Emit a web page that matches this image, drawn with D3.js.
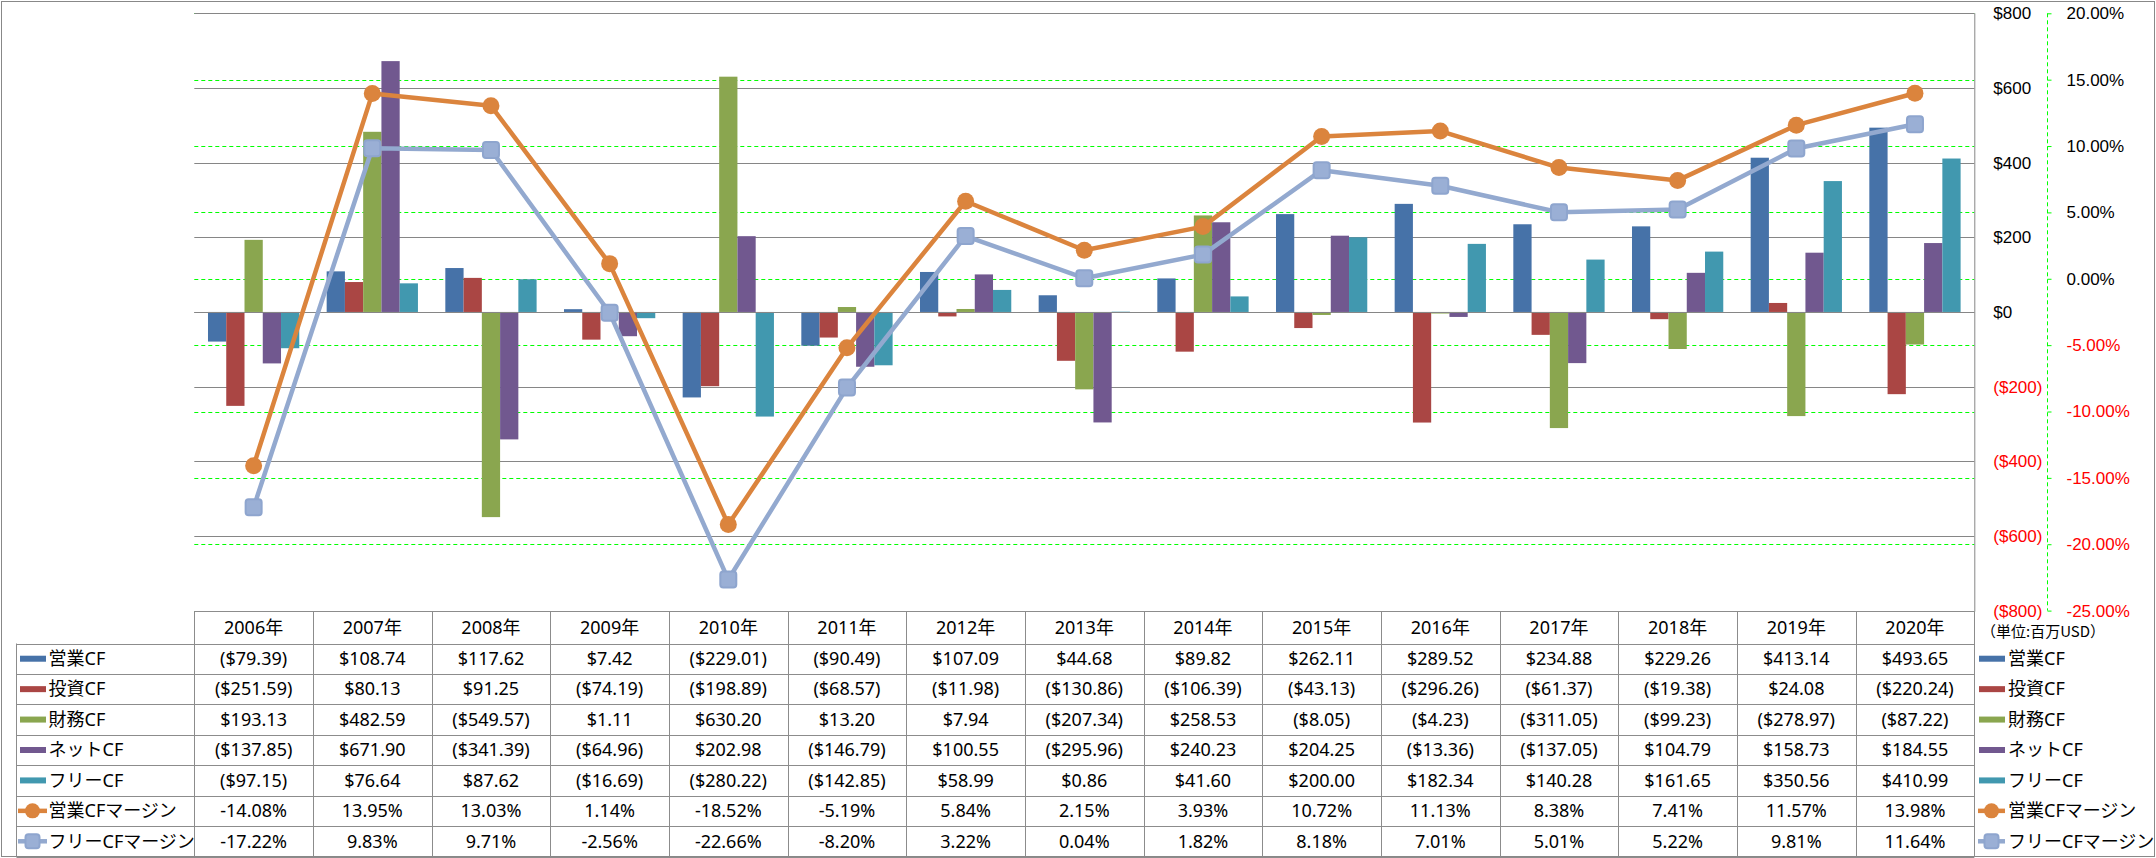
<!DOCTYPE html>
<html><head><meta charset="utf-8">
<script src="https://cdn.jsdelivr.net/npm/d3@7"></script>
<style>
body{margin:0;background:#fff;}
svg{display:block;font-family:"Noto Sans","Noto Sans CJK JP",sans-serif;}
</style></head><body>
<svg id="chart" width="2156" height="858"></svg>
<script>
// ---- data ----
const years = ["2006年","2007年","2008年","2009年","2010年","2011年","2012年","2013年","2014年","2015年","2016年","2017年","2018年","2019年","2020年"];
const seriesNames = ["営業CF","投資CF","財務CF","ネットCF","フリーCF"];
const lineNames = ["営業CFマージン","フリーCFマージン"];
const opCF   = [-79.39,108.74,117.62,7.42,-229.01,-90.49,107.09,44.68,89.82,262.11,289.52,234.88,229.26,413.14,493.65];
const invCF  = [-251.59,80.13,91.25,-74.19,-198.89,-68.57,-11.98,-130.86,-106.39,-43.13,-296.26,-61.37,-19.38,24.08,-220.24];
const finCF  = [193.13,482.59,-549.57,1.11,630.20,13.20,7.94,-207.34,258.53,-8.05,-4.23,-311.05,-99.23,-278.97,-87.22];
const netCF  = [-137.85,671.90,-341.39,-64.96,202.98,-146.79,100.55,-295.96,240.23,204.25,-13.36,-137.05,104.79,158.73,184.55];
const freeCF = [-97.15,76.64,87.62,-16.69,-280.22,-142.85,58.99,0.86,41.60,200.00,182.34,140.28,161.65,350.56,410.99];
const opMargin   = [-14.08,13.95,13.03,1.14,-18.52,-5.19,5.84,2.15,3.93,10.72,11.13,8.38,7.41,11.57,13.98];
const freeMargin = [-17.22,9.83,9.71,-2.56,-22.66,-8.20,3.22,0.04,1.82,8.18,7.01,5.01,5.22,9.81,11.64];
const yTicks  = [-800,-600,-400,-200,0,200,400,600,800];
const y2Ticks = [-25,-20,-15,-10,-5,0,5,10,15,20];
const unitLabel = "（単位:百万USD）";

// ---- styles ----
const barColors  = ["#4672A8","#AA4644","#8AA64F","#71588F","#4198AF"];
const lineColors = ["#DB843D","#93A9CF"];
const gridGray = "#868686";
const green = "#00FF00";

const svg = d3.select("#chart");
const L = 194.3, R = 1974.3, T = 13.3, B = 610.6;
const x = d3.scaleBand().domain(years).range([L, R]).padding(0);
const y = d3.scaleLinear().domain([-800, 800]).range([B, T]);
const y2 = d3.scaleLinear().domain([-25, 20]).range([B, T]);
const sub = d3.scaleBand().domain(d3.range(5)).range([0, x.bandwidth()]).paddingInner(0).paddingOuter(0.75);
const bars = [opCF, invCF, finCF, netCF, freeCF];
const lines = [opMargin, freeMargin];
const fmtUSD = v => v < 0 ? `($${Math.abs(v).toFixed(2)})` : `$${v.toFixed(2)}`;
const fmtPct = v => `${v.toFixed(2)}%`;
const fmtAxis = v => v < 0 ? `($${-v})` : `$${v}`;
const fmtAxis2 = v => `${v.toFixed(2)}%`;

// outer border
svg.append("rect").attr("x",1.5).attr("y",1.5).attr("width",2153).attr("height",855)
  .attr("fill","#fff").attr("stroke","#888").attr("stroke-width",1);

// green dashed gridlines (secondary)
svg.append("g").selectAll("line").data(y2Ticks).join("line")
  .attr("x1",L).attr("x2",R)
  .attr("y1",d=>Math.round(y2(d))+0.5).attr("y2",d=>Math.round(y2(d))+0.5)
  .attr("stroke",green).attr("stroke-width",1).attr("stroke-dasharray","4,3");
// gray gridlines (primary)
svg.append("g").selectAll("line").data(yTicks).join("line")
  .attr("x1",L).attr("x2",R)
  .attr("y1",d=>Math.round(y(d))+0.5).attr("y2",d=>Math.round(y(d))+0.5)
  .attr("stroke",gridGray).attr("stroke-width",1);

// bars
bars.forEach((vals, si) => {
  svg.append("g").selectAll("rect").data(vals).join("rect")
    .attr("x",(d,i)=>x(years[i])+sub(si))
    .attr("width",sub.bandwidth())
    .attr("y",d=>Math.min(y(d),y(0)))
    .attr("height",d=>Math.abs(y(d)-y(0)))
    .attr("fill",barColors[si]);
});
// zero line redraw over bars
svg.append("line").attr("x1",L).attr("x2",R).attr("y1",Math.round(y(0))+0.5).attr("y2",Math.round(y(0))+0.5)
  .attr("stroke",gridGray).attr("stroke-width",1);

// primary axis (right of plot)
const ax1 = svg.append("g").attr("transform",`translate(${R},0)`)
  .call(d3.axisRight(y).tickValues(yTicks).tickSize(0).tickPadding(19).tickFormat(fmtAxis));
ax1.select(".domain").attr("stroke",gridGray).attr("d",`M0.5,${T}V${B+1}`);
ax1.selectAll("text").attr("font-size",17).attr("font-family",null).attr("fill",d=>d<0?"#FF0000":"#000");

// secondary axis
const ax2 = svg.append("g").attr("transform",`translate(2047.5,0)`)
  .call(d3.axisRight(y2).tickValues(y2Ticks).tickSize(4).tickPadding(15).tickFormat(fmtAxis2));
ax2.select(".domain").attr("stroke",green).attr("stroke-dasharray","4,3").attr("d",`M0,${T}V${B}`);
ax2.selectAll(".tick line").attr("stroke",green);
ax2.selectAll("text").attr("font-size",17).attr("font-family",null).attr("fill",d=>d<0?"#FF0000":"#000");

// lines
const cx = i => x(years[i]) + x.bandwidth()/2;
lines.forEach((vals, li) => {
  svg.append("path").datum(vals)
    .attr("d", d3.line().x((d,i)=>cx(i)).y(d=>y2(d)))
    .attr("fill","none").attr("stroke",lineColors[li]).attr("stroke-width",4.5)
    .attr("stroke-linejoin","round");
});
// markers
svg.append("g").selectAll("circle").data(opMargin).join("circle")
  .attr("cx",(d,i)=>cx(i)).attr("cy",d=>y2(d)).attr("r",8.5).attr("fill",lineColors[0]);
svg.append("g").selectAll("rect").data(freeMargin).join("rect")
  .attr("x",(d,i)=>cx(i)-8).attr("y",d=>y2(d)-8).attr("width",16).attr("height",16).attr("rx",3)
  .attr("fill","#9AAFD5").attr("stroke","#8EA5CE").attr("stroke-width",2);

// ---- data table ----
const hTop = 611.5, hBot = 643.5, tBot = 856.5, rowH = (tBot - hBot) / 7, tL = 16.5;
const tg = svg.append("g");
const tableStroke = "#8C8C8C";
tg.append("line").attr("x1",L).attr("x2",R).attr("y1",hTop).attr("y2",hTop).attr("stroke",tableStroke);
d3.range(8).forEach(k => {
  const yy = Math.round(hBot + k*rowH) + 0.5;
  tg.append("line").attr("x1",tL).attr("x2",R).attr("y1",yy).attr("y2",yy).attr("stroke",tableStroke);
});
years.forEach((yr,i) => {
  const xx = Math.round(x(yr)) + 0.5;
  tg.append("line").attr("x1",xx).attr("x2",xx).attr("y1",hTop).attr("y2",tBot).attr("stroke",tableStroke);
});
tg.append("line").attr("x1",Math.round(R)+0.5).attr("x2",Math.round(R)+0.5).attr("y1",hTop).attr("y2",tBot).attr("stroke",tableStroke);
tg.append("line").attr("x1",tL).attr("x2",tL).attr("y1",hBot).attr("y2",tBot).attr("stroke",tableStroke);

tg.selectAll("text.hdr").data(years).join("text").attr("class","hdr")
  .attr("x",d=>x(d)+x.bandwidth()/2).attr("y",(hTop+hBot)/2).attr("dy","0.35em")
  .attr("text-anchor","middle").attr("font-size",18).text(d=>d);

const rowVals = [...bars.map(v=>v.map(fmtUSD)), ...lines.map(v=>v.map(fmtPct))];
const rowNames = [...seriesNames, ...lineNames];
rowVals.forEach((vals, r) => {
  const yc = hBot + (r+0.5)*rowH;
  tg.append("g").selectAll("text").data(vals).join("text")
    .attr("x",(d,i)=>cx(i)).attr("y",yc).attr("dy","0.35em")
    .attr("text-anchor","middle").attr("font-size",18).text(d=>d);
});

function drawKey(g, r, kx, lineStart, lineEnd) {
  const yc = hBot + (r+0.5)*rowH;
  if (r < 5) {
    g.append("rect").attr("x",kx).attr("y",yc-3).attr("width",26).attr("height",6).attr("fill",barColors[r]);
  } else {
    const li = r-5;
    g.append("line").attr("x1",lineStart).attr("x2",lineEnd).attr("y1",yc).attr("y2",yc)
      .attr("stroke",lineColors[li]).attr("stroke-width",4.5);
    const mx = (lineStart+lineEnd)/2;
    if (li === 0) g.append("circle").attr("cx",mx).attr("cy",yc).attr("r",7.5).attr("fill",lineColors[0]);
    else g.append("rect").attr("x",mx-7).attr("y",yc-7).attr("width",14).attr("height",14).attr("rx",3)
      .attr("fill","#9AAFD5").attr("stroke","#8EA5CE").attr("stroke-width",2);
  }
}
rowNames.forEach((name, r) => {
  const yc = hBot + (r+0.5)*rowH;
  drawKey(tg, r, 20, 18, 47);
  tg.append("text").attr("x",48.5).attr("y",yc).attr("dy","0.35em").attr("font-size",18).text(name);
  drawKey(tg, r, 1979, 1978, 2005);
  tg.append("text").attr("x",2008).attr("y",yc).attr("dy","0.35em").attr("font-size",18).text(name);
});
svg.append("text").attr("x",1981).attr("y",632).attr("dy","0.35em").attr("font-size",15)
  .attr("font-family","Noto Sans CJK JP").text(unitLabel);
</script>
</body></html>
